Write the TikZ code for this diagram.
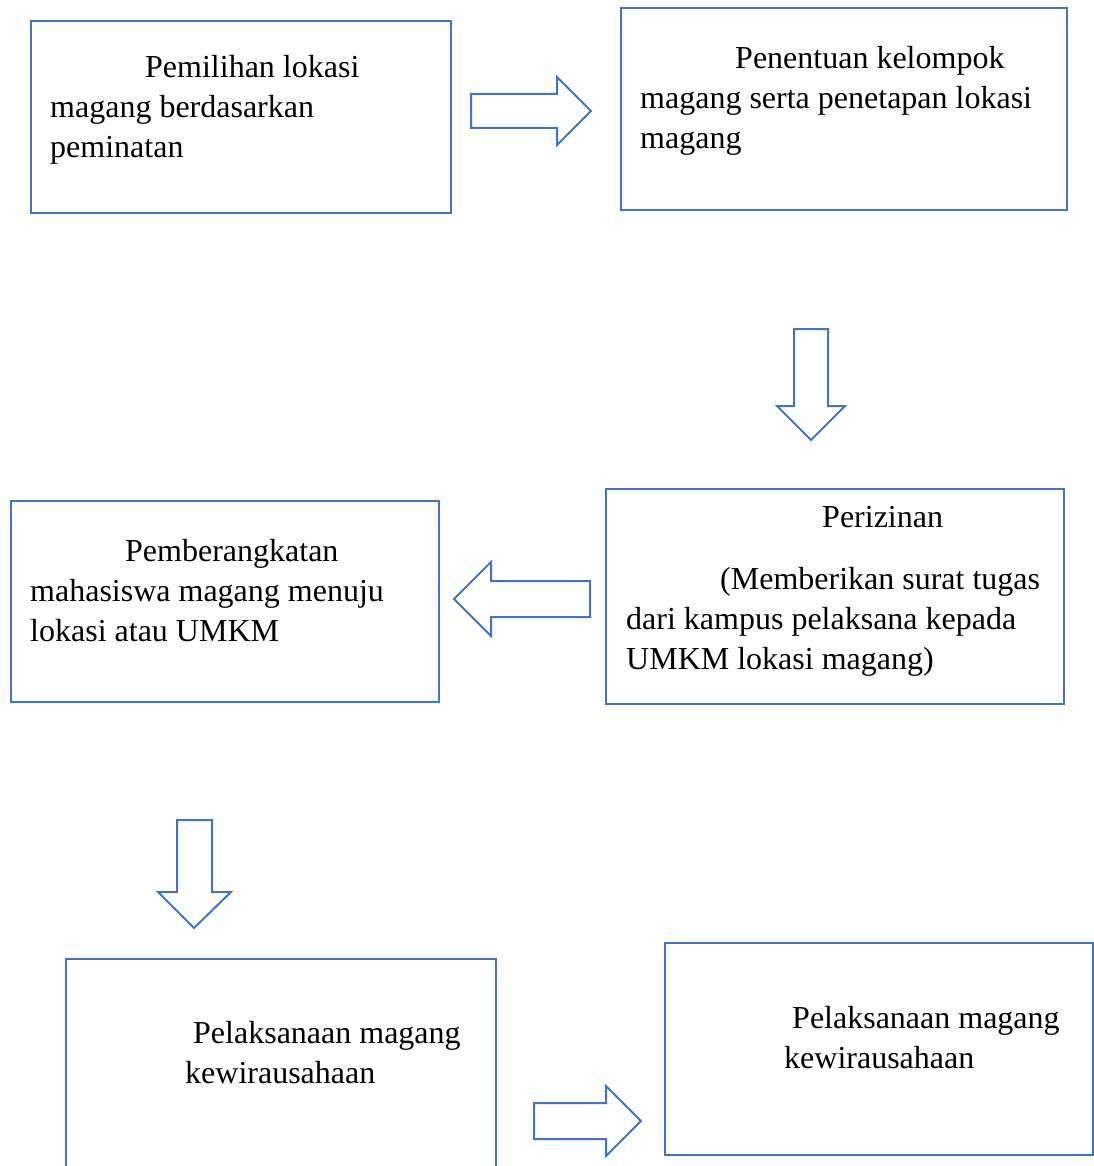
\documentclass[tikz,border=0pt]{standalone}
\usepackage{fontspec}
\setmainfont{Liberation Serif}
\usetikzlibrary{positioning}
\definecolor{garis}{HTML}{4472C4}

\begin{document}
\begin{tikzpicture}[x=1pt,y=-1pt,
    kotak/.style={draw=garis, line width=2pt, rectangle, inner sep=0pt, anchor=north west},
    isi/.style={inner sep=0pt, align=left, anchor=north west, font=\fontsize{32}{40}\selectfont},
    panah/.style={draw=garis, line width=2pt, line join=miter}]

          \useasboundingbox (0,0) rectangle (1093,1166);

          \node[kotak, minimum width=420pt, minimum height=192pt] (pemilihan)   at (30,20)   { };
          \node[kotak, minimum width=446pt, minimum height=202pt] (penentuan)   at (620,7)   { };
          \node[kotak, minimum width=458pt, minimum height=215pt] (perizinan)   at (605,488) { };
          \node[kotak, minimum width=428pt, minimum height=201pt] (berangkat)   at (10,500)  { };
          \node[kotak, minimum width=430pt, minimum height=240pt] (pelaksanaA)  at (65,958)  { };
          \node[kotak, minimum width=428pt, minimum height=212pt] (pelaksanaB)  at (664,942) { };

          \node[isi] (tpemilihan) at (50,55)
            {\hspace*{95pt}Pemilihan lokasi\\magang berdasarkan\\peminatan};
          \node[isi] (tpenentuan) at (640,46)
            {\hspace*{95pt}Penentuan kelompok\\magang serta penetapan lokasi\\magang};
          \node[isi] (tperizinan) at (626,506)
            {\hspace*{196pt}Perizinan\\[22pt]\hspace*{94pt}(Memberikan surat tugas\\dari kampus pelaksana kepada\\UMKM lokasi magang)};
          \node[isi] (tberangkat) at (30,539)
            {\hspace*{95pt}Pemberangkatan\\mahasiswa magang menuju\\lokasi atau UMKM};
          \node[isi] (tpelaksanaA) at (185,1021)
            {\hspace*{8pt}Pelaksanaan magang\\kewirausahaan};
          \node[isi] (tpelaksanaB) at (784,1006)
            {\hspace*{8pt}Pelaksanaan magang\\kewirausahaan};

          % panah blok
          \draw[panah] (471,94) -- (557,94) -- (557,77) -- (591,111) -- (557,145) -- (557,128) -- (471,128) -- cycle;
          \draw[panah] (794,329) -- (828,329) -- (828,406) -- (845,406) -- (811,440) -- (777,406) -- (794,406) -- cycle;
          \draw[panah] (590,581) -- (491,581) -- (491,562) -- (454,599) -- (491,636) -- (491,617) -- (590,617) -- cycle;
          \draw[panah] (177,820) -- (212,820) -- (212,892) -- (231,892) -- (194,928) -- (158,892) -- (177,892) -- cycle;
          \draw[panah] (534,1103) -- (606,1103) -- (606,1086) -- (641,1121) -- (606,1156) -- (606,1139) -- (534,1139) -- cycle;
        \end{tikzpicture}
\end{document}
